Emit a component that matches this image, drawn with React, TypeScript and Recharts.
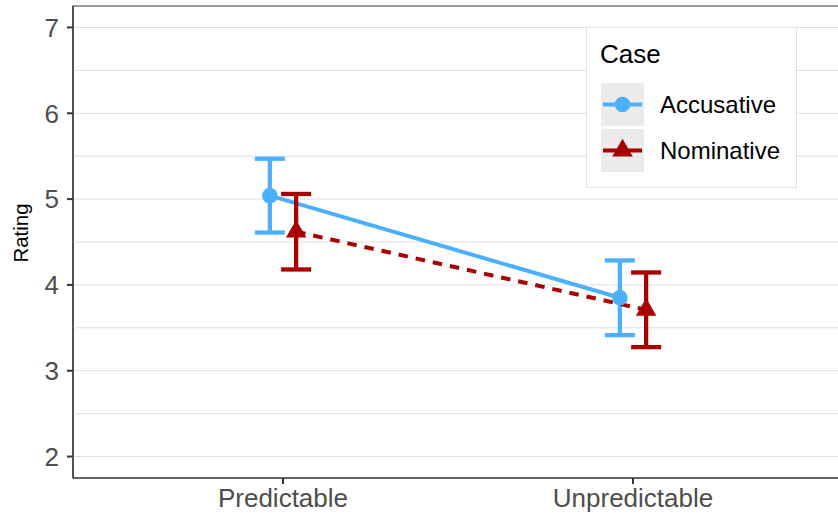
import React from 'react';
import { ComposedChart, Line, XAxis, YAxis, ErrorBar, ReferenceLine, ReferenceArea, Legend } from 'recharts';

const categories = ['Predictable', 'Unpredictable'];
const accusativeMeans = [5.04, 3.85];
const accusativeErrors = [0.43, 0.435];
const nominativeMeans = [4.62, 3.71];
const nominativeErrors = [0.44, 0.435];
const seriesNames = ['Accusative', 'Nominative'];
const yTicks = [2, 3, 4, 5, 6, 7];
const gridValues = [2, 2.5, 3, 3.5, 4, 4.5, 5, 5.5, 6, 6.5, 7];
const yAxisTitle = 'Rating';
const legendTitle = 'Case';

const BLUE = '#4BB0FF';
const RED = '#A80000';
const FONT = '"Liberation Sans", Arial, sans-serif';
const DODGE = 0.0375;

const buildSeries = (means: number[], errs: number[], offset: number) =>
  categories.map((c, i) => ({ cat: c, x: i + 1 + offset, y: means[i], err: errs[i] }));

const accData = buildSeries(accusativeMeans, accusativeErrors, -DODGE);
const nomData = buildSeries(nominativeMeans, nominativeErrors, DODGE);

const triPoints = (cx: number, cy: number, r: number) => {
  const xc = (r * Math.sqrt(3)) / 2;
  return `${cx},${cy - r} ${cx + xc},${cy + r / 2} ${cx - xc},${cy + r / 2}`;
};

const CircleDot = (p: any) => (
  <circle key={`c-${p.index}`} cx={p.cx} cy={p.cy} r={7.8} fill={BLUE} />
);
const TriDot = (p: any) => (
  <polygon key={`t-${p.index}`} points={triPoints(p.cx, p.cy, 11.8)} fill={RED} />
);

const LegendBox = () => (
  <div style={{ width: 211, height: 161, boxSizing: 'border-box', border: '1px solid #E2E2E2', background: '#fff' }}>
    <svg width={209} height={159} style={{ display: 'block', fontFamily: FONT }}>
      <text x={13} y={35} style={{ fontSize: 26 }} fill="#000">{legendTitle}</text>
      {seriesNames.map((name, i) => {
        const top = 55 + i * 46;
        const cy = top + 21.5;
        return (
          <g key={name}>
            <rect x={14} y={top} width={43} height={43} fill="#EBEBEB" />
            <line x1={16} x2={55} y1={cy} y2={cy} stroke={i === 0 ? BLUE : RED} strokeWidth={4} />
            {i === 0 ? (
              <circle cx={35.5} cy={cy} r={7.8} fill={BLUE} />
            ) : (
              <polygon points={triPoints(35.5, cy, 11.8)} fill={RED} />
            )}
            <text x={73} y={cy + 8.5} style={{ fontSize: 24 }} fill="#000">{name}</text>
          </g>
        );
      })}
    </svg>
  </div>
);

export default function App() {
  return (
    <div style={{ position: 'absolute', left: 0, top: 0, width: 838, height: 513, overflow: 'hidden', background: '#fff' }}>
      <ComposedChart width={850} height={513} margin={{ top: 6, right: 7, bottom: 0, left: 0 }}>
        <XAxis
          type="number"
          dataKey="x"
          domain={[0.4, 2.6]}
          ticks={[1, 2]}
          allowDataOverflow
          tickFormatter={(v: number) => categories[Math.round(v) - 1]}
          height={35}
          tickSize={6}
          tickMargin={5}
          tickLine={{ stroke: '#333', strokeWidth: 2 }}
          axisLine={{ stroke: '#333', strokeWidth: 1.2 }}
          tick={{ fontSize: 26, fill: '#4D4D4D', fontFamily: FONT }}
        />
        <YAxis
          type="number"
          domain={[1.75, 7.25]}
          ticks={yTicks}
          allowDataOverflow
          width={73}
          tickSize={6}
          tickMargin={8}
          tickLine={{ stroke: '#333', strokeWidth: 2 }}
          axisLine={{ stroke: '#333', strokeWidth: 1.2 }}
          tick={{ fontSize: 26, fill: '#4D4D4D', fontFamily: FONT }}
        />
        {gridValues.map((v) => (
          <ReferenceLine key={v} y={v} stroke="#DEDEDE" strokeWidth={1} />
        ))}
        <ReferenceArea x1={0.4} x2={2.6} y1={1.75} y2={7.25} fill="none" stroke="#333" strokeWidth={1.2} fillOpacity={0} />
        <Line
          data={accData}
          dataKey="y"
          name={seriesNames[0]}
          type="linear"
          stroke={BLUE}
          strokeWidth={4}
          dot={CircleDot}
          activeDot={false}
          isAnimationActive={false}
        >
          <ErrorBar dataKey="err" direction="y" width={15} strokeWidth={4.3} stroke={BLUE} />
        </Line>
        <Line
          data={nomData}
          dataKey="y"
          name={seriesNames[1]}
          type="linear"
          stroke={RED}
          strokeWidth={4}
          strokeDasharray="9.5 8"
          dot={TriDot}
          activeDot={false}
          isAnimationActive={false}
        >
          <ErrorBar dataKey="err" direction="y" width={15} strokeWidth={4.3} stroke={RED} />
        </Line>
        <Legend
          layout="horizontal"
          align="center"
          verticalAlign="middle"
          wrapperStyle={{ position: 'absolute', left: 586, top: 27, width: 211, height: 161 }}
          content={() => <LegendBox />}
        />
      </ComposedChart>
      <svg
        width={40}
        height={513}
        style={{ position: 'absolute', left: 0, top: 0, pointerEvents: 'none' }}
      >
        <text
          x={28}
          y={233}
          transform="rotate(-90, 28, 233)"
          textAnchor="middle"
          fill="#000"
          fontSize={21}
          fontFamily={FONT}
          textLength={59}
          lengthAdjust="spacingAndGlyphs"
          style={{ fontSize: '21px' }}
        >
          {yAxisTitle}
        </text>
      </svg>
    </div>
  );
}
